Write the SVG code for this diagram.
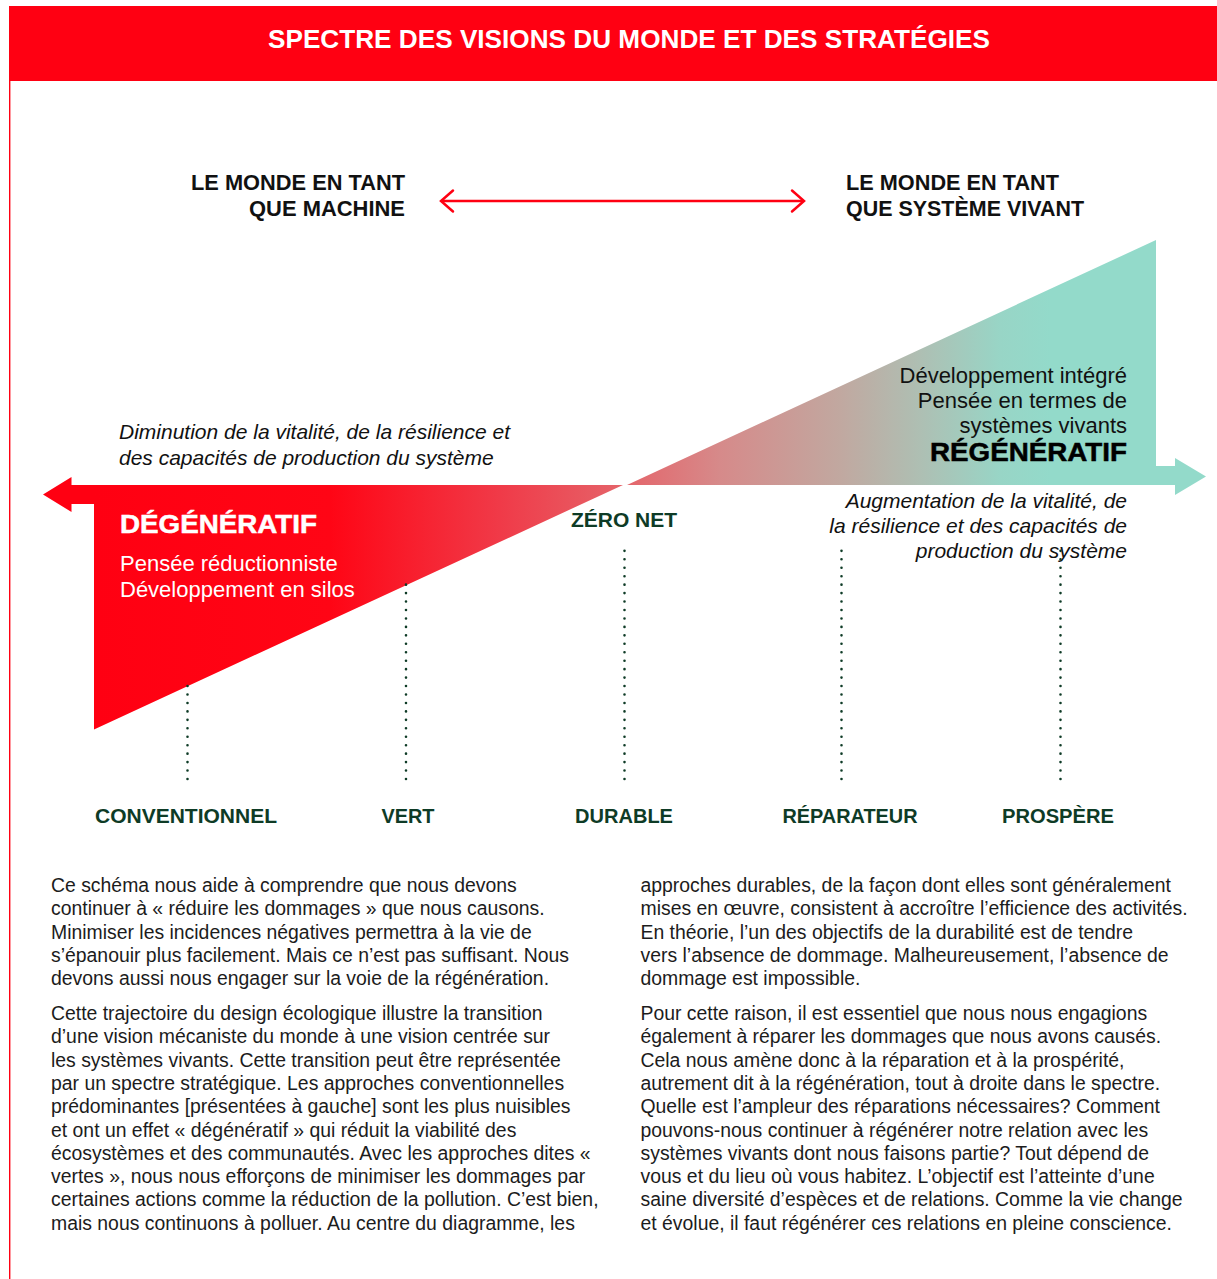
<svg xmlns="http://www.w3.org/2000/svg" width="1217" height="1279" viewBox="0 0 1217 1279">
<style>
  .title { font-family: "Liberation Sans", Arial, sans-serif; font-weight: bold; font-size: 26px; fill: #ffffff; }
  .pole { font-family: "Liberation Sans", Arial, sans-serif; font-weight: bold; font-size: 21.3px; fill: #111111; }
  .ital { font-family: "Liberation Sans", Arial, sans-serif; font-style: italic; font-size: 21px; fill: #111111; }
  .sub { font-family: "Liberation Sans", Arial, sans-serif; font-size: 22px; }
  .big { font-family: "Liberation Sans", Arial, sans-serif; font-weight: bold; font-size: 26px; }
  .cat { font-family: "Liberation Sans", Arial, sans-serif; font-weight: bold; font-size: 21px; fill: #0e3b26; text-anchor: middle; }
  .para { font-family: "Liberation Sans", Arial, sans-serif; font-size: 19.4px; fill: #1c1c1c; }
  .dots { stroke: #0e3b26; stroke-width: 2.6; stroke-linecap: round; stroke-dasharray: 0 8.45; fill: none; }
  .arr { stroke: #ff0012; stroke-width: 2.5; fill: none; stroke-linecap: round; stroke-linejoin: miter; }
</style>
<defs>
  <linearGradient id="spec" gradientUnits="userSpaceOnUse" x1="94" y1="0" x2="1206" y2="0">
    <stop offset="0" stop-color="#ff0012"/>
    <stop offset="0.212" stop-color="#ff0515"/>
    <stop offset="0.365" stop-color="#f03a48"/>
    <stop offset="0.476" stop-color="#e5646a"/>
    <stop offset="0.563" stop-color="#d68a8a"/>
    <stop offset="0.671" stop-color="#c1a8a0"/>
    <stop offset="0.743" stop-color="#aebfb3"/>
    <stop offset="0.815" stop-color="#98d5c6"/>
    <stop offset="0.86" stop-color="#93daca"/>
    <stop offset="1" stop-color="#93daca"/>
  </linearGradient>
</defs>
<rect width="1217" height="1279" fill="#ffffff"/>

<g id="header">
  <rect x="9" y="6" width="1208" height="75" fill="#ff0012"/>
  <line x1="9.7" y1="81" x2="9.7" y2="1279" stroke="#ff0012" stroke-width="1.4"/>
  <text class="title" x="629" y="47.5" text-anchor="middle" textLength="722" lengthAdjust="spacingAndGlyphs">SPECTRE DES VISIONS DU MONDE ET DES STRATÉGIES</text>
</g>

<g id="pole-machine">
  <text class="pole" x="405" y="190" text-anchor="end" textLength="214" lengthAdjust="spacingAndGlyphs">LE MONDE EN TANT</text>
  <text class="pole" x="405" y="216" text-anchor="end" textLength="156" lengthAdjust="spacingAndGlyphs">QUE MACHINE</text>
</g>
<g id="pole-vivant">
  <text class="pole" x="846" y="190" textLength="213" lengthAdjust="spacingAndGlyphs">LE MONDE EN TANT</text>
  <text class="pole" x="846" y="216" textLength="238" lengthAdjust="spacingAndGlyphs">QUE SYSTÈME VIVANT</text>
</g>

<g id="connectors">
  <line class="arr" x1="442" y1="201" x2="803" y2="201"/>
  <polyline class="arr" points="453,190.5 441,201 453,211.5"/>
  <polyline class="arr" points="792,190.5 804,201 792,211.5"/>
</g>

<g id="degeneratif">
  <path d="M43,494.5 L71.5,477 L71.5,485 L623,485 L94,729.5 L94,504 L71.5,504 L71.5,512 Z" fill="url(#spec)"/>
  <text class="big" x="120" y="533" fill="#ffffff" stroke="#ffffff" stroke-width="0.5" textLength="197" lengthAdjust="spacingAndGlyphs">DÉGÉNÉRATIF</text>
  <text class="sub" x="120" y="571" fill="#ffffff">Pensée réductionniste</text>
  <text class="sub" x="120" y="597" fill="#ffffff">Développement en silos</text>
  <text class="ital" x="119" y="439">Diminution de la vitalité, de la résilience et</text>
  <text class="ital" x="119" y="465">des capacités de production du système</text>
</g>

<g id="regeneratif">
  <path d="M627,485 L1156,240 L1156,466 L1175,466 L1175,458 L1206,476.5 L1175,495 L1175,485 Z" fill="url(#spec)"/>
  <text class="sub" x="1127" y="383" text-anchor="end" fill="#111111">Développement intégré</text>
  <text class="sub" x="1127" y="408" text-anchor="end" fill="#111111">Pensée en termes de</text>
  <text class="sub" x="1127" y="433" text-anchor="end" fill="#111111">systèmes vivants</text>
  <text class="big" x="1127" y="461" text-anchor="end" fill="#000000" stroke="#000000" stroke-width="0.5" textLength="197" lengthAdjust="spacingAndGlyphs">RÉGÉNÉRATIF</text>
  <text class="ital" x="1127" y="508" text-anchor="end">Augmentation de la vitalité, de</text>
  <text class="ital" x="1127" y="533" text-anchor="end">la résilience et des capacités de</text>
  <text class="ital" x="1127" y="558" text-anchor="end">production du système</text>
</g>

<g id="zero-net">
  <text class="cat" x="624" y="527" font-size="20">ZÉRO NET</text>
</g>

<g id="dotted-lines">
  <line class="dots" x1="187.5" y1="779" x2="187.5" y2="684"/>
  <line class="dots" x1="406" y1="779" x2="406" y2="584"/>
  <line class="dots" x1="624.5" y1="779" x2="624.5" y2="543"/>
  <line class="dots" x1="841.5" y1="779" x2="841.5" y2="543"/>
  <line class="dots" x1="1060.5" y1="779" x2="1060.5" y2="543"/>
</g>

<g id="categories">
  <text class="cat" x="186" y="823" textLength="182" lengthAdjust="spacingAndGlyphs">CONVENTIONNEL</text>
  <text class="cat" x="408" y="823" textLength="53" lengthAdjust="spacingAndGlyphs">VERT</text>
  <text class="cat" x="624" y="823" textLength="98" lengthAdjust="spacingAndGlyphs">DURABLE</text>
  <text class="cat" x="850" y="823" textLength="135" lengthAdjust="spacingAndGlyphs">RÉPARATEUR</text>
  <text class="cat" x="1058" y="823" textLength="112" lengthAdjust="spacingAndGlyphs">PROSPÈRE</text>
</g>

<g id="text-left">
  <text class="para" x="51" y="892">Ce schéma nous aide à comprendre que nous devons</text>
  <text class="para" x="51" y="915.3">continuer à « réduire les dommages » que nous causons.</text>
  <text class="para" x="51" y="938.6">Minimiser les incidences négatives permettra à la vie de</text>
  <text class="para" x="51" y="961.9">s’épanouir plus facilement. Mais ce n’est pas suffisant. Nous</text>
  <text class="para" x="51" y="985.2">devons aussi nous engager sur la voie de la régénération.</text>
  <text class="para" x="51" y="1020">Cette trajectoire du design écologique illustre la transition</text>
  <text class="para" x="51" y="1043.3">d’une vision mécaniste du monde à une vision centrée sur</text>
  <text class="para" x="51" y="1066.6">les systèmes vivants. Cette transition peut être représentée</text>
  <text class="para" x="51" y="1089.9">par un spectre stratégique. Les approches conventionnelles</text>
  <text class="para" x="51" y="1113.2">prédominantes [présentées à gauche] sont les plus nuisibles</text>
  <text class="para" x="51" y="1136.5">et ont un effet « dégénératif » qui réduit la viabilité des</text>
  <text class="para" x="51" y="1159.8">écosystèmes et des communautés. Avec les approches dites «</text>
  <text class="para" x="51" y="1183.1">vertes », nous nous efforçons de minimiser les dommages par</text>
  <text class="para" x="51" y="1206.4">certaines actions comme la réduction de la pollution. C’est bien,</text>
  <text class="para" x="51" y="1229.7">mais nous continuons à polluer. Au centre du diagramme, les</text>
</g>

<g id="text-right">
  <text class="para" x="640.5" y="892">approches durables, de la façon dont elles sont généralement</text>
  <text class="para" x="640.5" y="915.3">mises en œuvre, consistent à accroître l’efficience des activités.</text>
  <text class="para" x="640.5" y="938.6">En théorie, l’un des objectifs de la durabilité est de tendre</text>
  <text class="para" x="640.5" y="961.9">vers l’absence de dommage. Malheureusement, l’absence de</text>
  <text class="para" x="640.5" y="985.2">dommage est impossible.</text>
  <text class="para" x="640.5" y="1020">Pour cette raison, il est essentiel que nous nous engagions</text>
  <text class="para" x="640.5" y="1043.3">également à réparer les dommages que nous avons causés.</text>
  <text class="para" x="640.5" y="1066.6">Cela nous amène donc à la réparation et à la prospérité,</text>
  <text class="para" x="640.5" y="1089.9">autrement dit à la régénération, tout à droite dans le spectre.</text>
  <text class="para" x="640.5" y="1113.2">Quelle est l’ampleur des réparations nécessaires? Comment</text>
  <text class="para" x="640.5" y="1136.5">pouvons-nous continuer à régénérer notre relation avec les</text>
  <text class="para" x="640.5" y="1159.8">systèmes vivants dont nous faisons partie? Tout dépend de</text>
  <text class="para" x="640.5" y="1183.1">vous et du lieu où vous habitez. L’objectif est l’atteinte d’une</text>
  <text class="para" x="640.5" y="1206.4">saine diversité d’espèces et de relations. Comme la vie change</text>
  <text class="para" x="640.5" y="1229.7">et évolue, il faut régénérer ces relations en pleine conscience.</text>
</g>
</svg>
